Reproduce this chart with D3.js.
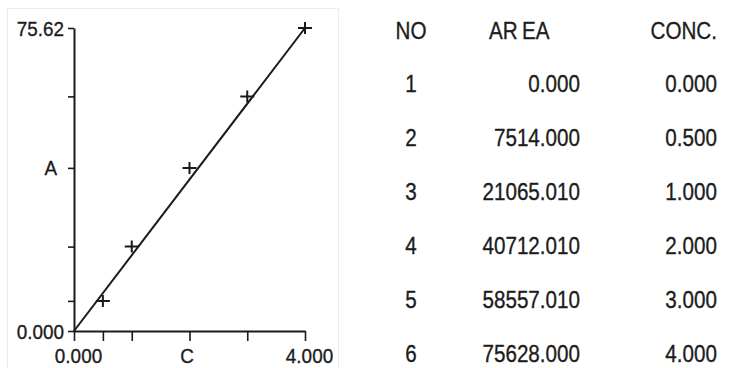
<!DOCTYPE html>
<html>
<head>
<meta charset="utf-8">
<script src="https://cdn.jsdelivr.net/npm/d3@7"></script>
<style>
  html, body { margin: 0; padding: 0; background: #fff; }
  svg { display: block; }
  text { font-family: "Liberation Sans", Arial, sans-serif; fill: #1c1c1c; stroke: #1c1c1c; stroke-width: 0.35px; }
</style>
</head>
<body>
<svg id="chart" width="729" height="368"></svg>
<script>
// Calibration standards: sample number, peak area and concentration
const sampleNo = [1, 2, 3, 4, 5, 6];
const areaValues = [0.000, 7514.000, 21065.010, 40712.010, 58557.010, 75628.000];
const concValues = [0.000, 0.500, 1.000, 2.000, 3.000, 4.000];
const areaLabels = ["0.000", "7514.000", "21065.010", "40712.010", "58557.010", "75628.000"];
const concLabels = ["0.000", "0.500", "1.000", "2.000", "3.000", "4.000"];
const tableHeaders = ["NO", "AREA", "CONC."];

// Axis tick labels (one per tick; ticks sit on the standards)
const xTickLabels = ["0.000", "", "", "C", "", "4.000"];
const yTickLabels = ["0.000", "", "", "A", "", "75.62"];

const svg = d3.select("#chart");
const ink = "#1a1a1a";
const axisSqueeze = 0.9;    // narrow, plotter-style lettering
const tableSqueeze = 0.86;

// place a horizontally condensed text at (x, y)
function narrowText(parent, x, y, str, anchor, size) {
  return parent.append("text")
    .attr("transform", `translate(${x},${y}) scale(${tableSqueeze},1)`)
    .attr("text-anchor", anchor)
    .style("font-size", size + "px")
    .text(str);
}

// faint frame around the plot panel
svg.append("rect")
  .attr("x", 7.5).attr("y", 8.5).attr("width", 331).attr("height", 370)
  .attr("fill", "none").attr("stroke", "#ededed").attr("stroke-width", 1);

// plotted in thousands of area units
const yVals = areaValues.map(v => v / 1000);

const x = d3.scaleLinear().domain([0, 4]).range([74, 305]);
const y = d3.scaleLinear().domain([0, d3.max(yVals)]).range([331, 28]);

// x axis with ticks at each concentration
const xAxis = d3.axisBottom(x)
  .tickValues(concValues)
  .tickSize(10)
  .tickSizeOuter(0)
  .tickFormat((d, i) => xTickLabels[i]);
const gx = svg.append("g").attr("transform", `translate(0,${y(0)})`).call(xAxis);
gx.select(".domain").attr("stroke", ink).attr("stroke-width", 2);
gx.selectAll(".tick line").attr("stroke", ink).attr("stroke-width", 1.6);
gx.selectAll(".tick text")
  .attr("x", null).attr("y", null).attr("dy", null)
  .attr("transform", (d, i) => `translate(${xTickLabels[i].length > 1 ? 4 : -3},32) scale(${axisSqueeze},1)`)
  .style("font-size", "21px")
  .attr("fill", "#1c1c1c");

// y axis with ticks at each area
const yAxis = d3.axisLeft(y)
  .tickValues(yVals)
  .tickSize(6)
  .tickSizeOuter(0)
  .tickFormat((d, i) => yTickLabels[i]);
const gy = svg.append("g").attr("transform", `translate(${x(0)},0)`).call(yAxis);
gy.select(".domain").attr("stroke", ink).attr("stroke-width", 2);
gy.selectAll(".tick line").attr("stroke", ink).attr("stroke-width", 1.6);
gy.selectAll(".tick text")
  .attr("x", null).attr("dy", null)
  .attr("transform", (d, i) => `translate(${yTickLabels[i].length > 1 ? -10 : -17},7) scale(${axisSqueeze},1)`)
  .style("font-size", "21px")
  .attr("fill", "#1c1c1c");

// calibration line from the origin to the top standard
const last = yVals.length - 1;
svg.append("line")
  .attr("x1", x(concValues[0])).attr("y1", y(yVals[0]))
  .attr("x2", x(concValues[last])).attr("y2", y(yVals[last]))
  .attr("stroke", ink).attr("stroke-width", 2);

// "+" markers for the standards (origin point has none)
const pts = concValues.map((c, i) => ({ c, a: yVals[i] })).filter(p => p.c > 0);
const marks = svg.append("g").attr("stroke", ink).attr("stroke-width", 2);
marks.selectAll("path").data(pts).join("path")
  .attr("d", p => {
    const px = x(p.c), py = y(p.a);
    return `M${px - 7},${py}H${px + 7}M${px},${py - 6}V${py + 6}`;
  });

// data table
const colX = [411, 580, 717];
const headerY = 39;
const rowY = d3.scaleLinear().domain([0, 5]).range([92, 362]);
const tableSize = 24;

const table = svg.append("g");
narrowText(table, colX[0], headerY, tableHeaders[0], "middle", tableSize);
// area header is plotted with a small gap after "AR"
const areaHead = table.append("text")
  .attr("transform", `translate(489,${headerY}) scale(${tableSqueeze},1)`)
  .attr("text-anchor", "start")
  .style("font-size", tableSize + "px");
areaHead.append("tspan").text(tableHeaders[1].slice(0, 2));
areaHead.append("tspan").attr("dx", 5).text(tableHeaders[1].slice(2));
narrowText(table, colX[2], headerY, tableHeaders[2], "end", tableSize);

sampleNo.forEach((n, i) => {
  narrowText(table, colX[0], rowY(i), n, "middle", tableSize);
  narrowText(table, colX[1], rowY(i), areaLabels[i], "end", tableSize);
  narrowText(table, colX[2], rowY(i), concLabels[i], "end", tableSize);
});
</script>
</body>
</html>
